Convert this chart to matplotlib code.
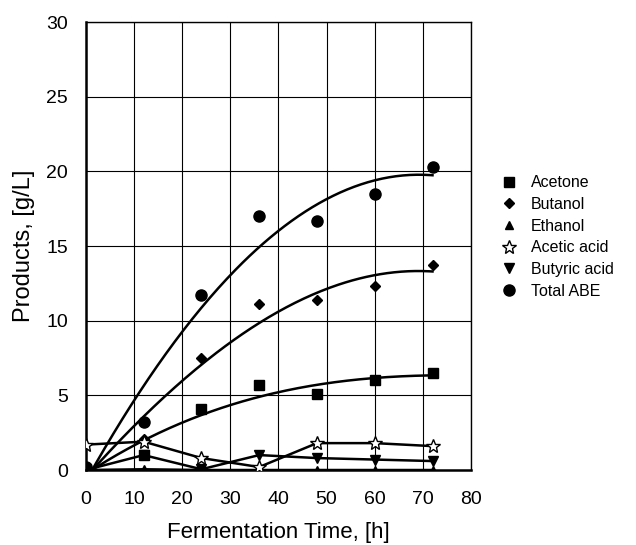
import numpy as np
import matplotlib
matplotlib.use('Agg')
import matplotlib.pyplot as plt

plt.rcParams['font.family'] = ['Liberation Sans', 'DejaVu Sans']

time_h = [0, 12, 24, 36, 48, 60, 72]
acetone = [0.1, 1.0, 4.1, 5.7, 5.1, 6.0, 6.5]
butanol = [0.1, 2.1, 7.5, 11.1, 11.4, 12.3, 13.7]
ethanol = [0.0, 0.05, 0.0, 0.0, 0.0, 0.0, 0.0]
acetic_acid = [1.7, 1.9, 0.8, 0.2, 1.8, 1.8, 1.6]
butyric_acid = [0.0, 1.0, 0.05, 1.0, 0.8, 0.7, 0.6]
total_abe = [0.2, 3.2, 11.7, 17.0, 16.7, 18.5, 20.3]

fig = plt.figure(figsize=(6.36, 5.45), dpi=100)
ax = fig.add_axes([0.135, 0.1376, 0.6056, 0.822])

t_fine = np.linspace(0, 72, 200)
# trend curves (3rd order polynomial fits) for the main products
for vals in (acetone, butanol, total_abe):
    coef = np.polyfit(time_h, vals, 3)
    ax.plot(t_fine, np.polyval(coef, t_fine), color='black', lw=1.8, zorder=2)

ax.plot(time_h, acetone, 's', color='black', ms=7, ls='none', label='Acetone', zorder=3)
ax.plot(time_h, butanol, 'D', color='black', ms=5.5, ls='none', label='Butanol', zorder=3)
ax.plot(time_h, ethanol, '^', color='black', ms=6, ls='-', lw=1.8, label='Ethanol', zorder=3)
ax.plot(time_h, acetic_acid, '*', color='black', mfc='white', ms=10, ls='-', lw=1.8,
        label='Acetic acid', zorder=3)
ax.plot(time_h, butyric_acid, 'v', color='black', ms=7, ls='-', lw=1.8,
        label='Butyric acid', zorder=3)
ax.plot(time_h, total_abe, 'o', color='black', ms=8, ls='none', label='Total ABE', zorder=3)

ax.set_xlim(0, 80)
ax.set_ylim(0, 30)
ax.set_xticks(range(0, 81, 10))
ax.set_yticks(range(0, 31, 5))
ax.grid(True, color='black', lw=0.8)
ax.set_axisbelow(True)
ax.tick_params(length=0, labelsize=14)
ax.tick_params(axis='x', pad=15)
ax.tick_params(axis='y', pad=13)
for side in ax.spines.values():
    side.set_linewidth(1.0)
ax.spines['left'].set_linewidth(1.8)
ax.spines['bottom'].set_linewidth(1.8)

ax.set_xlabel('Fermentation Time, [h]', fontsize=16, labelpad=10)
ax.set_ylabel('Products, [g/L]', fontsize=17, labelpad=8)

handles, labels = ax.get_legend_handles_labels()
leg = fig.legend(handles, labels, loc='upper left', bbox_to_anchor=(0.767, 0.705),
                 frameon=False, fontsize=11.5, handlelength=0.8, handletextpad=1.0,
                 labelspacing=0.42)
for h in leg.legend_handles:
    h.set_linestyle('none')

fig.savefig('out.png', dpi=100)
